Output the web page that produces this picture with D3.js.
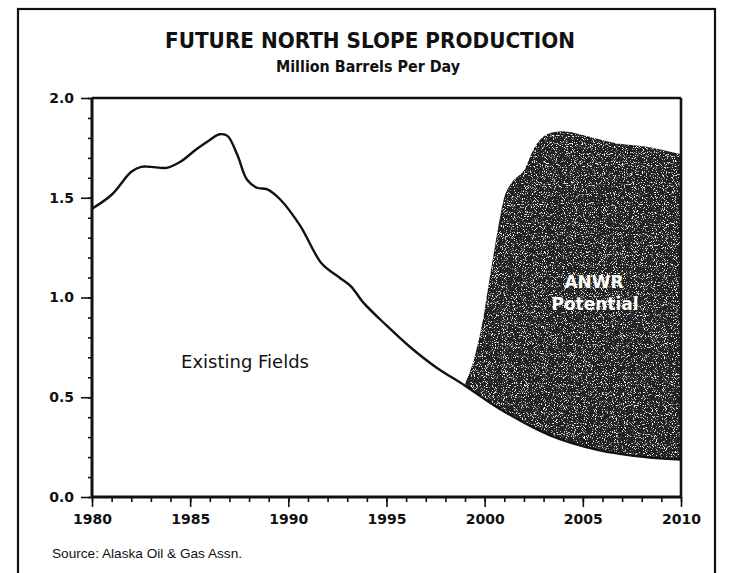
<!DOCTYPE html>
<html>
<head>
<meta charset="utf-8">
<script src="https://cdn.jsdelivr.net/npm/d3@7"></script>
<style>
  html, body { margin: 0; padding: 0; background: #fff; }
  svg { display: block; }
</style>
</head>
<body>
<svg id="chart" width="732" height="573"></svg>
<script>
// ---- Data ----
const existingYears  = [1980, 1981, 1982, 1982.5, 1983, 1983.8, 1984.5, 1985.3, 1986, 1986.5, 1986.9, 1987.4, 1987.9, 1988.4, 1988.9, 1989.6, 1990.6, 1991.7, 1992.6, 1993.2, 1993.8, 1995, 1996.2, 1997.5, 1999, 2000.75, 2003.3, 2005.8, 2008.4, 2010];
const existingValues = [1.445, 1.515, 1.63, 1.655, 1.655, 1.65, 1.68, 1.742, 1.79, 1.818, 1.81, 1.715, 1.59, 1.55, 1.543, 1.49, 1.36, 1.17, 1.10, 1.055, 0.977, 0.86, 0.752, 0.652, 0.558, 0.443, 0.31, 0.235, 0.198, 0.188];

const anwrYears  = [1999, 1999.3, 1999.6, 1999.9, 2000.2, 2000.5, 2000.8, 2001.1, 2001.5, 2002, 2002.6, 2003.1, 2003.9, 2004.6, 2006.7, 2008.4, 2010];
const anwrValues = [0.558, 0.63, 0.73, 0.86, 1.04, 1.22, 1.39, 1.52, 1.585, 1.63, 1.755, 1.81, 1.83, 1.82, 1.77, 1.75, 1.714];

const xMajorTicks = [1980, 1985, 1990, 1995, 2000, 2005, 2010];
const xMinorTicks = d3.range(1980, 2011, 1);
const yMajorTicks = [0.0, 0.5, 1.0, 1.5, 2.0];
const yMinorTicks = d3.range(0, 21, 1).map(d => d / 10);

const titleText    = "FUTURE NORTH SLOPE PRODUCTION";
const subtitleText = "Million Barrels Per Day";
const sourceText   = "Source: Alaska Oil & Gas Assn.";
const existingLabel = "Existing Fields";
const anwrLabel = ["ANWR", "Potential"];

// ---- Layout ----
const svg = d3.select("#chart");
const x = d3.scaleLinear().domain([1980, 2010]).range([92, 681]);
const y = d3.scaleLinear().domain([0, 2]).range([497, 98]);

const existing = existingYears.map((yr, i) => ({ x: yr, v: existingValues[i] }));
const anwr = anwrYears.map((yr, i) => ({ x: yr, v: anwrValues[i] }));

const curve = d3.curveCatmullRom.alpha(0.5);

// defs: grain filter for the dark area
const defs = svg.append("defs");
const f = defs.append("filter").attr("id", "grain")
  .attr("x", 0).attr("y", 0).attr("width", 1).attr("height", 1);
f.append("feTurbulence").attr("type", "fractalNoise").attr("baseFrequency", 0.9)
  .attr("numOctaves", 2).attr("seed", 7).attr("result", "n");
f.append("feColorMatrix").attr("in", "n").attr("type", "matrix")
  .attr("values", "0 0 0 0 1  0 0 0 0 1  0 0 0 0 1  7 0 0 0 -4.1").attr("result", "w");
f.append("feComposite").attr("in", "w").attr("in2", "SourceGraphic").attr("operator", "in").attr("result", "wc");
const fm = f.append("feMerge");
fm.append("feMergeNode").attr("in", "SourceGraphic");
fm.append("feMergeNode").attr("in", "wc");

defs.append("clipPath").attr("id", "plotclip")
  .append("rect").attr("x", x(1980)).attr("y", y(2)).attr("width", x(2010) - x(1980)).attr("height", y(0) - y(2));

// outer frame
svg.append("rect")
  .attr("x", 18).attr("y", 9).attr("width", 697).attr("height", 620)
  .attr("fill", "none").attr("stroke", "#111").attr("stroke-width", 2.2);

// title
svg.append("text").attr("x", 370).attr("y", 48)
  .attr("text-anchor", "middle")
  .attr("font-family", "'Liberation Sans Narrow', 'DejaVu Sans Condensed', sans-serif")
  .attr("font-weight", "bold").attr("font-size", 22)
  .attr("textLength", 410).attr("lengthAdjust", "spacingAndGlyphs")
  .attr("fill", "#111").text(titleText);

svg.append("text").attr("x", 368).attr("y", 72)
  .attr("text-anchor", "middle")
  .attr("font-family", "'Liberation Sans Narrow', 'DejaVu Sans Condensed', sans-serif")
  .attr("font-weight", "bold").attr("font-size", 16)
  .attr("textLength", 184).attr("lengthAdjust", "spacingAndGlyphs")
  .attr("fill", "#111").text(subtitleText);

// plot content
const plot = svg.append("g").attr("clip-path", "url(#plotclip)");

const anwrArea = d3.area()
  .x(d => x(d.x)).y0(y(0)).y1(d => y(d.v))
  .curve(curve);
plot.append("path").datum(anwr)
  .attr("d", anwrArea)
  .attr("fill", "#222")
  .attr("stroke", "#1a1a1a").attr("stroke-width", 1.5)
  .attr("filter", "url(#grain)");

const existingArea = d3.area()
  .x(d => x(d.x)).y0(y(0)).y1(d => y(d.v))
  .curve(curve);
plot.append("path").datum(existing)
  .attr("d", existingArea)
  .attr("fill", "#ffffff");

const existingLine = d3.line()
  .x(d => x(d.x)).y(d => y(d.v))
  .curve(curve);
plot.append("path").datum(existing)
  .attr("d", existingLine)
  .attr("fill", "none").attr("stroke", "#111").attr("stroke-width", 2.4)
  .attr("stroke-linejoin", "round");

// plot frame
svg.append("line").attr("x1", x(1980)).attr("x2", x(2010)).attr("y1", y(2)).attr("y2", y(2))
  .attr("stroke", "#111").attr("stroke-width", 2.6);
svg.append("line").attr("x1", x(2010)).attr("x2", x(2010)).attr("y1", y(2)).attr("y2", y(0))
  .attr("stroke", "#111").attr("stroke-width", 2.6);

// axes
const tickFont = "'DejaVu Sans', sans-serif";

const yMinorAxis = d3.axisLeft(y).tickValues(yMinorTicks).tickSize(4).tickFormat("");
const gyMinor = svg.append("g").attr("transform", `translate(${x(1980)},0)`).call(yMinorAxis);
const yMajorAxis = d3.axisLeft(y).tickValues(yMajorTicks).tickSize(11).tickPadding(7)
  .tickFormat(d3.format(".1f"));
const gyMajor = svg.append("g").attr("transform", `translate(${x(1980)},0)`).call(yMajorAxis);

const xMinorAxis = d3.axisBottom(x).tickValues(xMinorTicks).tickSize(5).tickFormat("");
const gxMinor = svg.append("g").attr("transform", `translate(0,${y(0)})`).call(xMinorAxis);
const xMajorAxis = d3.axisBottom(x).tickValues(xMajorTicks).tickSize(10).tickPadding(7)
  .tickFormat(d3.format("d"));
const gxMajor = svg.append("g").attr("transform", `translate(0,${y(0)})`).call(xMajorAxis);

[gyMinor, gyMajor, gxMinor, gxMajor].forEach(g => {
  g.select(".domain").attr("stroke", "#111").attr("stroke-width", 3);
  g.selectAll(".tick line").attr("stroke", "#111").attr("stroke-width", 1.6);
  g.selectAll(".tick text")
    .attr("font-family", tickFont).attr("font-weight", "bold")
    .attr("font-size", 14).attr("fill", "#111");
});
gyMinor.select(".domain").remove();
gxMinor.select(".domain").remove();
gyMajor.select(".domain").attr("d", `M0,${y(2)}V${y(0)}`);
gxMajor.select(".domain").attr("d", `M${x(1980)},0H${x(2010)}`);

// labels inside plot
svg.append("text").attr("x", 245).attr("y", 368)
  .attr("text-anchor", "middle")
  .attr("font-family", "'DejaVu Sans', sans-serif").attr("font-size", 18)
  .attr("fill", "#111").text(existingLabel);

svg.append("text").attr("x", 594).attr("y", 288)
  .attr("text-anchor", "middle")
  .attr("font-family", "'DejaVu Sans', sans-serif").attr("font-weight", "bold").attr("font-size", 17)
  .attr("fill", "#fff").text(anwrLabel[0]);
svg.append("text").attr("x", 595).attr("y", 310)
  .attr("text-anchor", "middle")
  .attr("font-family", "'DejaVu Sans', sans-serif").attr("font-weight", "bold").attr("font-size", 17)
  .attr("fill", "#fff").text(anwrLabel[1]);

// source
svg.append("text").attr("x", 52).attr("y", 558)
  .attr("font-family", "'Liberation Sans', Arial, sans-serif").attr("font-size", 13.5)
  .attr("textLength", 190).attr("lengthAdjust", "spacingAndGlyphs")
  .attr("fill", "#111").text(sourceText);
</script>
</body>
</html>
